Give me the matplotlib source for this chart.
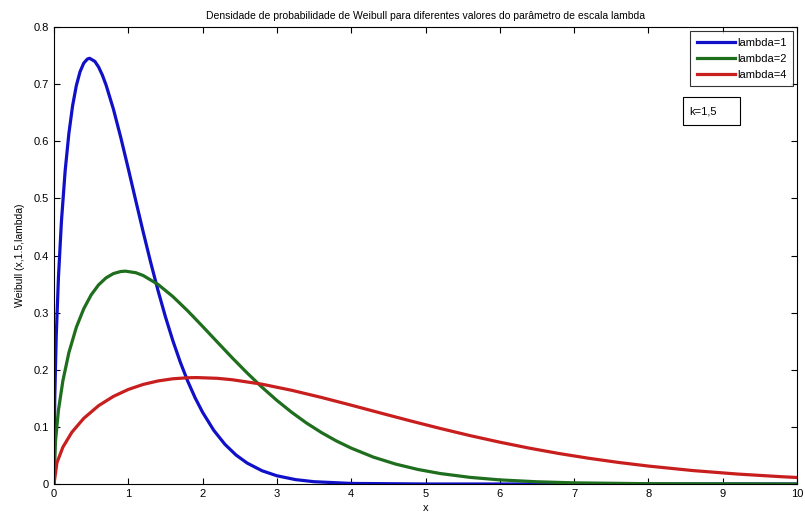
import matplotlib.pyplot as plt
from matplotlib.patches import Rectangle
import numpy as np

# valores (k = 1,5)
x_l1 = [0, 0.01, 0.03, 0.06, 0.1, 0.15, 0.2, 0.25, 0.3, 0.35, 0.4, 0.45, 0.48, 0.55, 0.6, 0.65,
        0.7, 0.8, 0.9, 1.0, 1.1, 1.2, 1.3, 1.4, 1.5, 1.6, 1.7, 1.8, 1.9, 2.0, 2.15, 2.3, 2.45,
        2.6, 2.8, 3.0, 3.25, 3.5, 4.0, 5.0, 10.0]
y_l1 = [0, 0.1499, 0.2585, 0.3620, 0.4596, 0.5482, 0.6134, 0.6619, 0.6971, 0.7215, 0.7367,
        0.7440, 0.7452, 0.7398, 0.7300, 0.7161, 0.6987, 0.6561, 0.6059, 0.5518, 0.4963,
        0.4414, 0.3886, 0.3386, 0.2926, 0.2507, 0.2132, 0.1799, 0.1507, 0.1255, 0.0940,
        0.0695, 0.0507, 0.0366, 0.0232, 0.0144, 0.0077, 0.0040, 0.0010, 0.0000, 0.0]

x_l2 = [0, 0.02, 0.06, 0.12, 0.2, 0.3, 0.4, 0.5, 0.6, 0.7, 0.8, 0.9, 0.96, 1.1, 1.2, 1.4,
        1.6, 1.8, 2.0, 2.2, 2.4, 2.6, 2.8, 3.0, 3.2, 3.4, 3.6, 3.8, 4.0, 4.3, 4.6, 4.9, 5.2,
        5.6, 6.0, 6.5, 7.0, 8.0, 10.0]
y_l2 = [0, 0.0750, 0.1293, 0.1810, 0.2298, 0.2741, 0.3067, 0.3310, 0.3486, 0.3608, 0.3684,
        0.3720, 0.3726, 0.3699, 0.3650, 0.3494, 0.3281, 0.3030, 0.2759, 0.2482, 0.2207,
        0.1943, 0.1693, 0.1463, 0.1254, 0.1066, 0.0900, 0.0754, 0.0628, 0.0470, 0.0348,
        0.0254, 0.0183, 0.0116, 0.0072, 0.0039, 0.0020, 0.0005, 0.0000]

x_l4 = [0, 0.04, 0.12, 0.24, 0.4, 0.6, 0.8, 1.0, 1.2, 1.4, 1.6, 1.8, 1.92, 2.2, 2.4, 2.8,
        3.2, 3.6, 4.0, 4.4, 4.8, 5.2, 5.6, 6.0, 6.4, 6.8, 7.2, 7.6, 8.0, 8.6, 9.2, 9.8, 10.0]
y_l4 = [0, 0.0375, 0.0646, 0.0905, 0.1149, 0.1371, 0.1534, 0.1655, 0.1743, 0.1804, 0.1842,
        0.1860, 0.1863, 0.1850, 0.1825, 0.1747, 0.1640, 0.1515, 0.1380, 0.1241, 0.1104,
        0.0972, 0.0847, 0.0732, 0.0627, 0.0533, 0.0450, 0.0377, 0.0314, 0.0235, 0.0174,
        0.0127, 0.0114]

legendas = ['lambda=1', 'lambda=2', 'lambda=4']
cores = ['#1010c8', '#1e6e1e', '#c81e1e']

plt.rcParams['font.family'] = ['Liberation Sans', 'DejaVu Sans']

fig = plt.figure(figsize=(8.05, 5.17), dpi=100)
ax = fig.add_axes([54/805, 1 - 484/517, (797-54)/805, (484-27)/517])

for (xs, ys, cor, nome) in zip([x_l1, x_l2, x_l4], [y_l1, y_l2, y_l4], cores, legendas):
    ax.plot(xs, ys, color=cor, linewidth=2.3, label=nome)

ax.set_xlim(0, 10)
ax.set_ylim(0, 0.8)
ax.set_xticks(np.arange(0, 11, 1))
ax.set_yticks(np.arange(0, 0.81, 0.1))
ax.set_yticklabels(['0', '0.1', '0.2', '0.3', '0.4', '0.5', '0.6', '0.7', '0.8'])
ax.tick_params(direction='in', top=True, right=True, labelsize=8, length=4, width=0.8)
for s in ax.spines.values():
    s.set_linewidth(0.8)

ax.set_title('Densidade de probabilidade de Weibull para diferentes valores do parâmetro de escala lambda',
             fontsize=7.5, pad=6)
ax.set_xlabel('x', fontsize=8, labelpad=3)
ax.set_ylabel('Weibull (x,1.5,lambda)', fontsize=7.5, labelpad=6)

leg = ax.legend(loc='upper right', fontsize=8, frameon=True, fancybox=False, handlelength=3.4,
                borderaxespad=0.35, labelspacing=0.55, handletextpad=0.2, borderpad=0.6)
leg.get_frame().set_edgecolor('black')
leg.get_frame().set_linewidth(0.8)

# caixa de texto com o parametro de forma
ax.add_patch(Rectangle((0.8466, 0.7856), 0.0767, 0.0613, transform=ax.transAxes,
                       facecolor='white', edgecolor='black', linewidth=0.8, zorder=5))
ax.text(0.855, 0.816, 'k=1,5', transform=ax.transAxes, fontsize=8, va='center', ha='left', zorder=6)

fig.savefig('out.png', dpi=100)
